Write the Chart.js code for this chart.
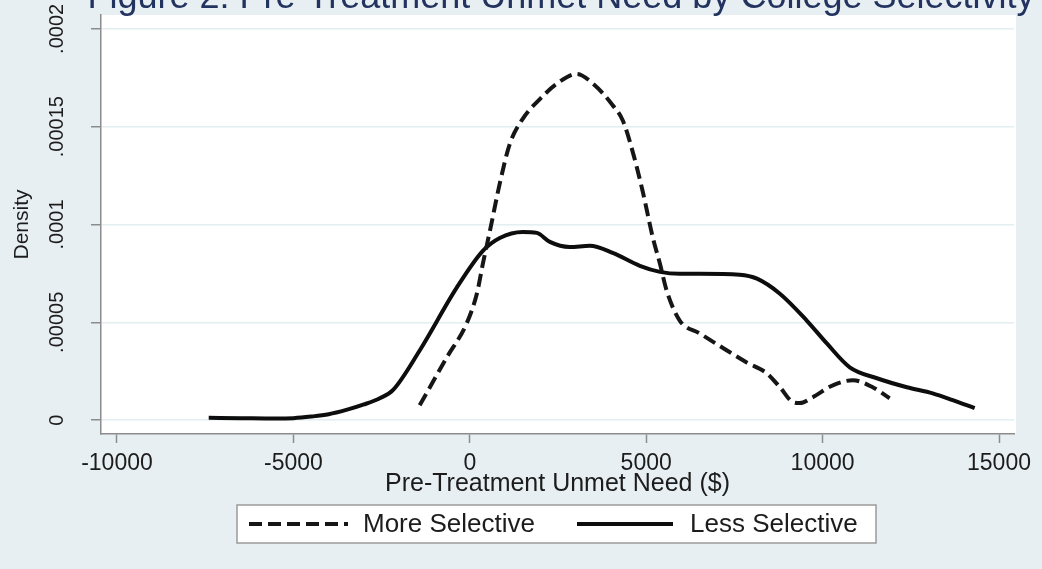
<!DOCTYPE html>
<html lang="en">
<head>
<meta charset="utf-8">
<title>Figure 2: Pre-Treatment Unmet Need by College Selectivity</title>
<script src="https://cdn.jsdelivr.net/npm/chart.js@4.4.1/dist/chart.umd.min.js"></script>
<style>
  html, body { margin: 0; padding: 0; background: #e8eff2; }
  #wrap { width: 1042px; height: 569px; }
</style>
</head>
<body>
<div id="wrap"><canvas id="densityChart" width="1042" height="569"></canvas></div>
<script>
/* ============================================
   DATA (density curves)
   ============================================ */

const chartTitle = 'Figure 2: Pre-Treatment Unmet Need by College Selectivity';
const xAxisTitle = 'Pre-Treatment Unmet Need ($)';
const yAxisTitle = 'Density';
const seriesLabels = ['More Selective', 'Less Selective'];

const moreSelectiveX = [-1420, -650, -90, 200, 370, 570, 850, 1130, 1500, 1980, 2470, 3030, 3490, 4050, 4340, 4620, 4900, 5190, 5390, 5580, 5950, 6520, 7290, 7850, 8420, 8790, 9160, 9350, 9720, 10290, 10860, 11420, 11900];
const moreSelectiveY = [0.0000076, 0.0000321, 0.0000494, 0.0000646, 0.0000799, 0.0000967, 0.000121, 0.000141, 0.000154, 0.000164, 0.000172, 0.000177, 0.000172, 0.000161, 0.000153, 0.000137, 0.000117, 0.0000931, 0.0000799, 0.0000662, 0.0000509, 0.0000443, 0.0000356, 0.0000295, 0.0000239, 0.0000168, 0.0000092, 0.0000087, 0.0000117, 0.0000178, 0.0000204, 0.0000168, 0.0000112];

const lessSelectiveX = [-7400, -6500, -5500, -5000, -4500, -4000, -3500, -3000, -2550, -2180, -1420, -370, 370, 850, 1500, 1900, 2270, 2830, 3400, 4050, 4820, 5390, 5950, 6520, 7650, 8140, 8790, 9550, 10120, 10770, 11540, 12390, 13120, 13690, 14310];
const lessSelectiveY = [0.0000012, 0.000001, 0.0000008, 0.000001, 0.0000018, 0.000003, 0.0000052, 0.000008, 0.0000112, 0.0000153, 0.0000356, 0.0000677, 0.0000865, 0.0000931, 0.0000962, 0.0000957, 0.0000911, 0.0000885, 0.0000891, 0.0000855, 0.0000789, 0.0000758, 0.0000748, 0.0000748, 0.0000743, 0.0000723, 0.0000646, 0.0000509, 0.0000392, 0.000027, 0.0000214, 0.0000168, 0.0000137, 0.0000102, 0.0000061];

const xTicks = [-10000, -5000, 0, 5000, 10000, 15000];
const yTicks = [0, 0.00005, 0.0001, 0.00015, 0.0002];
const yTickLabels = ['0', '.00005', '.0001', '.00015', '.0002'];

/* ============================================
   STYLE
   ============================================ */

const FONT = '"Liberation Sans", Arial, Helvetica, sans-serif';
const TEXT_COLOR = '#1c1c1c';
const TITLE_COLOR = '#22335f';
const AXIS_COLOR = '#8c8c8c';
const GRID_COLOR = '#e2eeef';

const toPoints = (xs, ys) => xs.map((x, i) => ({ x: x, y: ys[i] }));

// White plot region (Stata plotregion)
const plotRegionFill = {
  id: 'plotRegionFill',
  beforeDraw(chart) {
    const { ctx, chartArea: a } = chart;
    ctx.save();
    ctx.fillStyle = '#ffffff';
    ctx.fillRect(a.left, a.top, a.right - a.left + 2, a.bottom - a.top);
    ctx.restore();
  }
};

// Title that runs off the top edge, as in the original figure
const croppedTitle = {
  id: 'croppedTitle',
  afterDraw(chart) {
    const ctx = chart.ctx;
    ctx.save();
    ctx.font = '36px ' + FONT;
    ctx.fillStyle = TITLE_COLOR;
    ctx.textAlign = 'center';
    ctx.textBaseline = 'alphabetic';
    ctx.fillText(chartTitle, 561, 8);
    ctx.restore();
  }
};

// Boxed legend under the axis title
const boxedLegend = {
  id: 'boxedLegend',
  afterDraw(chart) {
    const ctx = chart.ctx;
    const box = { left: 237, top: 505, right: 876, bottom: 543 };
    const keys = [{ x0: 249, x1: 348, tx: 363 }, { x0: 577, x1: 673, tx: 690 }];
    const midY = (box.top + box.bottom) / 2;

    ctx.save();
    ctx.fillStyle = '#ffffff';
    ctx.fillRect(box.left, box.top, box.right - box.left, box.bottom - box.top);
    ctx.strokeStyle = '#9a9a9a';
    ctx.lineWidth = 1.5;
    ctx.strokeRect(box.left, box.top, box.right - box.left, box.bottom - box.top);

    chart.data.datasets.forEach((ds, i) => {
      const k = keys[i];
      ctx.beginPath();
      ctx.setLineDash(ds.borderDash || []);
      ctx.lineWidth = ds.borderWidth;
      ctx.strokeStyle = ds.borderColor;
      ctx.moveTo(k.x0, midY);
      ctx.lineTo(k.x1, midY);
      ctx.stroke();
      ctx.setLineDash([]);

      ctx.font = '26px ' + FONT;
      ctx.fillStyle = TEXT_COLOR;
      ctx.textAlign = 'left';
      ctx.textBaseline = 'middle';
      ctx.fillText(ds.label, k.tx, midY + 1);
    });
    ctx.restore();
  }
};

const densityChart = new Chart(document.getElementById('densityChart'), {
  type: 'line',
  data: {
    datasets: [{
      label: seriesLabels[0],
      data: toPoints(moreSelectiveX, moreSelectiveY),
      borderColor: '#161616',
      borderWidth: 4,
      borderDash: [13, 6],
      pointRadius: 0,
      cubicInterpolationMode: 'monotone',
      fill: false
    }, {
      label: seriesLabels[1],
      data: toPoints(lessSelectiveX, lessSelectiveY),
      borderColor: '#0d0d0d',
      borderWidth: 4,
      pointRadius: 0,
      cubicInterpolationMode: 'monotone',
      fill: false
    }]
  },
  options: {
    responsive: false,
    animation: false,
    layout: { padding: { left: 0, right: 28, top: 13, bottom: 69 } },
    plugins: {
      legend: { display: false },
      title: { display: false },
      tooltip: { enabled: false }
    },
    scales: {
      x: {
        type: 'linear',
        min: -10453,
        max: 15425,
        afterBuildTicks: (scale) => { scale.ticks = xTicks.map(v => ({ value: v })); },
        afterFit: (scale) => { scale.height = 66; },
        ticks: {
          autoSkip: false,
          maxRotation: 0,
          padding: 7,
          color: TEXT_COLOR,
          font: { family: FONT, size: 23 },
          callback: (value) => String(value)
        },
        grid: { drawOnChartArea: false, drawTicks: true, tickLength: 9, tickColor: AXIS_COLOR, tickWidth: 1.5 },
        border: { display: true, color: AXIS_COLOR, width: 1.5 },
        title: {
          display: true,
          text: xAxisTitle,
          color: TEXT_COLOR,
          font: { family: FONT, size: 25 },
          padding: 1
        }
      },
      y: {
        type: 'linear',
        min: -0.0000071,
        max: 0.0002071,
        afterBuildTicks: (scale) => { scale.ticks = yTicks.map(v => ({ value: v })); },
        afterFit: (scale) => { scale.width = 101; },
        ticks: {
          autoSkip: false,
          minRotation: 90,
          maxRotation: 90,
          crossAlign: 'center',
          padding: 3,
          color: TEXT_COLOR,
          font: { family: FONT, size: 20 },
          callback: (value, index) => yTickLabels[index]
        },
        grid: { color: GRID_COLOR, lineWidth: 1.5, drawTicks: true, tickLength: 10, tickColor: AXIS_COLOR, tickWidth: 1.5 },
        border: { display: true, color: AXIS_COLOR, width: 1.5 },
        title: {
          display: true,
          text: yAxisTitle,
          color: TEXT_COLOR,
          font: { family: FONT, size: 21 },
          padding: { top: 10, bottom: 0 }
        }
      }
    }
  },
  plugins: [plotRegionFill, croppedTitle, boxedLegend]
});
</script>
</body>
</html>
